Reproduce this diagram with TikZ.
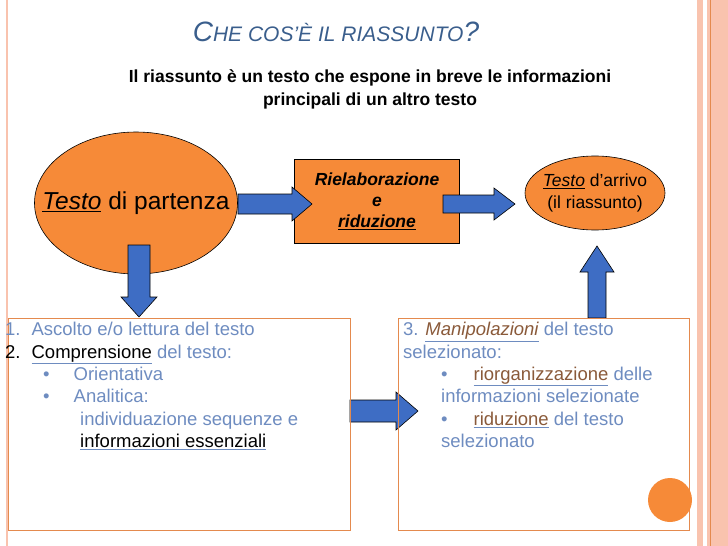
\documentclass[tikz,border=0pt]{standalone}
\usepackage{fontspec}
\setmainfont{Liberation Sans}
\usepackage{tikz}
\usetikzlibrary{shapes.geometric, calc}
\definecolor{orangefill}{HTML}{F68A38}
\definecolor{salmon}{HTML}{F9C3AE}
\definecolor{framec}{HTML}{E48A4E}
\definecolor{bluefill}{HTML}{3E6DC4}
\definecolor{titleblue}{HTML}{3A5E8C}
\definecolor{bodyblue}{HTML}{6E8CC0}
\definecolor{shade}{HTML}{8A5A3A}
\tikzset{
  blob/.style={draw=black, fill=orangefill, line width=0.6pt},
  block/.style={draw=black, fill=bluefill, line width=0.6pt},
  frame/.style={draw=framec, line width=0.6pt},
  body/.style={anchor=north west, align=left, text=bodyblue, font=\fontsize{18.5}{22.4}\selectfont, inner sep=0pt}
}
\newcommand{\hl}[1]{\underline{\textcolor{shade}{#1}}}
\newcommand{\sml}[1]{{\fontsize{21}{24}\selectfont #1}}
\begin{document}
\begin{tikzpicture}[x=1pt, y=-1pt]
\useasboundingbox (0,0) rectangle (728,546);
%the stripes
\fill[salmon] (697,0) rectangle (728,546);
\fill[white] (703,0) rectangle (707,546);
\draw[framec, line width=0.4pt] (710,0) -- (710,546);
\draw[salmon, line width=2pt] (7,0) -- (7,546);
%the title
\node (title) at (336,32) {\fontsize{28}{30}\selectfont\itshape\color{titleblue}C\sml{HE COS'È IL RIASSUNTO}?};
\node[align=center, font=\bfseries\fontsize{17.5}{23}\selectfont] (sub) at (370,89) {Il riassunto è un testo che espone in breve le informazioni\\principali di un altro testo};
%the ellipses
\draw[blob] (136,203) ellipse (101.5 and 71);
\draw[blob] (595,193) ellipse (70 and 37);
%the flow
\node (src) at (136,203) {\fontsize{24.5}{28}\selectfont\underline{\itshape Testo} di partenza};
\node[draw=black, fill=orangefill, minimum width=165pt, minimum height=84pt, align=center, line width=0.6pt, inner sep=0pt,
      font=\bfseries\itshape\fontsize{17.5}{21}\selectfont] (proc) at (377,201) {Rielaborazione\\e\\\underline{riduzione}};
\node[align=center, font=\fontsize{17.5}{22}\selectfont] (dst) at (595,193) {\underline{\itshape Testo} d'arrivo\\(il riassunto)};
%block arrows
\draw[block] (238,194) -- (292,194) -- (292,187) -- (312,204) -- (292,221) -- (292,214) -- (238,214) -- cycle;
\draw[block] (443,195) -- (494,195) -- (494,188) -- (515,204) -- (494,220) -- (494,213) -- (443,213) -- cycle;
\draw[block] (128,245) -- (150,245) -- (150,297) -- (157,297) -- (139,317) -- (121,297) -- (128,297) -- cycle;
\draw[block] (588,318) -- (606,318) -- (606,272) -- (614,272) -- (597,246) -- (580,272) -- (588,272) -- cycle;
\draw[block] (350,400) -- (396,400) -- (396,392) -- (418,411) -- (396,430) -- (396,422) -- (350,422) -- cycle;
%text boxes
\draw[frame] (8,318) rectangle (350,530);
\draw[frame] (398,318) rectangle (689,530);
\node[body] (left) at (5,322) {1.\hspace{11pt}Ascolto e/o lettura del testo\\
\textcolor{black}{2.}\hspace{11pt}\hl{\textcolor{black}{Comprensione}} del testo:\\
\hspace{38pt}\textbullet\hspace{24pt}Orientativa\\
\hspace{38pt}\textbullet\hspace{24pt}Analitica:\\
\hspace{75pt}individuazione sequenze e\\
\hspace{75pt}\underline{\textcolor{black}{informazioni essenziali}}};
\node[body] (right) at (403,322) {3. \hl{\itshape Manipolazioni} del testo\\
selezionato:\\
\hspace{38pt}\textbullet\hspace{26pt}\hl{riorganizzazione} delle\\
\hspace{38pt}informazioni selezionate\\
\hspace{38pt}\textbullet\hspace{26pt}\hl{riduzione} del testo\\
\hspace{38pt}selezionato};
\fill[orangefill] (670,500) circle (22);
\end{tikzpicture}
\end{document}
